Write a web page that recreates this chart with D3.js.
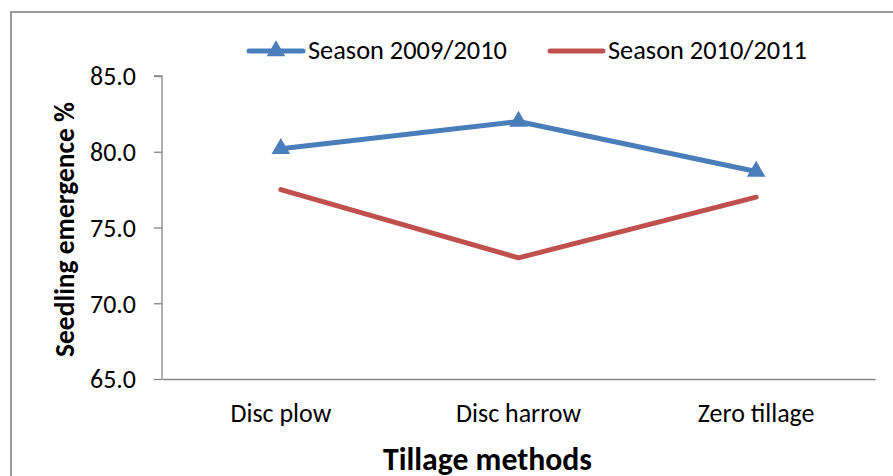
<!DOCTYPE html>
<html><head><meta charset="utf-8">
<script src="https://cdn.jsdelivr.net/npm/d3@7"></script>
<style>body{margin:0;background:#fff}svg{display:block}text{font-family:Carlito,Calibri,Lato,sans-serif}</style>
</head><body><svg id="c" width="893" height="476"></svg>
<script>
const categories = ["Disc plow", "Disc harrow", "Zero tillage"];
const season1 = [80.2, 82.0, 78.7];
const season2 = [77.5, 73.0, 77.0];
const seriesNames = ["Season 2009/2010", "Season 2010/2011"];
const yTicks = [65, 70, 75, 80, 85];

const svg = d3.select("#c");
const W = 893, H = 476;
const m = {left: 162, right: 875, top: 76, bottom: 379};
const FONT = "Carlito,Calibri,Lato,sans-serif";

// scale a text's font so its width matches a measured target
function fit(sel, target) {
  const fs = parseFloat(sel.attr("font-size"));
  const w = sel.node().getComputedTextLength();
  if (w > 0) sel.attr("font-size", (fs * target / w).toFixed(2));
  return +sel.attr("font-size");
}

svg.append("rect").attr("x", 11).attr("y", 12).attr("width", W + 10).attr("height", H + 10)
  .attr("fill", "none").attr("stroke", "#8c8c8c").attr("stroke-width", 1.75);

const x = d3.scaleBand().domain(categories).range([m.left, m.right]);
const y = d3.scaleLinear().domain([65, 85]).range([m.bottom, m.top]);

const yAxis = svg.append("g").attr("transform", `translate(${m.left},0)`)
  .call(d3.axisLeft(y).tickValues(yTicks).tickFormat(d3.format(".1f")).tickSize(8).tickPadding(18));
yAxis.select(".domain").attr("stroke", "#868686").attr("stroke-width", 1.3).attr("d", `M-8,${m.top}H0V${m.bottom}`);
yAxis.selectAll(".tick line").attr("stroke", "#868686").attr("stroke-width", 1.3);
yAxis.selectAll(".tick text").attr("font-size", 19).attr("fill", "#000").attr("font-family", FONT);
const tfs = fit(yAxis.select(".tick:last-of-type text"), 46);
yAxis.selectAll(".tick text").attr("font-size", tfs).attr("x", -26).attr("dy", "0.34em");

const xAxis = svg.append("g").attr("transform", `translate(0,${m.bottom})`)
  .call(d3.axisBottom(x).tickSize(0).tickPadding(25));
xAxis.select(".domain").attr("stroke", "#868686").attr("stroke-width", 1.3);
xAxis.selectAll(".tick text").attr("font-size", 19).attr("fill", "#000").attr("font-family", FONT);
const cfs = fit(xAxis.selectAll(".tick text").filter((d) => d === "Disc harrow"), 125);
xAxis.selectAll(".tick text").attr("font-size", cfs).attr("y", 43).attr("dy", 0);

const cx = d => x(d) + x.bandwidth() / 2;
const line = d3.line().x((d, i) => cx(categories[i])).y(d => y(d));

svg.append("path").datum(season2).attr("d", line).attr("fill", "none")
  .attr("stroke", "#C0504D").attr("stroke-width", 5).attr("stroke-linecap", "round").attr("stroke-linejoin", "round");
svg.append("path").datum(season1).attr("d", line).attr("fill", "none")
  .attr("stroke", "#4A7EBB").attr("stroke-width", 5).attr("stroke-linecap", "round").attr("stroke-linejoin", "round");

const tri = d3.symbol().type(d3.symbolTriangle).size(150);
svg.selectAll(".mk").data(season1).join("path")
  .attr("transform", (d, i) => `translate(${cx(categories[i])},${y(d)})`)
  .attr("d", tri).attr("fill", "#4A7EBB");

// legend
const lg = svg.append("g");
lg.append("line").attr("x1", 249).attr("x2", 303).attr("y1", 51).attr("y2", 51)
  .attr("stroke", "#4A7EBB").attr("stroke-width", 5).attr("stroke-linecap", "round");
lg.append("path").attr("transform", "translate(276,51)").attr("d", tri).attr("fill", "#4A7EBB");
const l1 = lg.append("text").attr("x", 308).attr("y", 59).attr("font-size", 19).text(seriesNames[0]);
const lfs = fit(l1, 199);
lg.append("line").attr("x1", 550).attr("x2", 603).attr("y1", 51).attr("y2", 51)
  .attr("stroke", "#C0504D").attr("stroke-width", 5).attr("stroke-linecap", "round");
lg.append("text").attr("x", 608).attr("y", 59).attr("font-size", lfs).text(seriesNames[1]);

// axis titles
const yt = svg.append("text").attr("transform", "translate(73.5,229.5) rotate(-90)").attr("text-anchor", "middle")
  .attr("font-size", 18).attr("font-weight", "bold").text("Seedling emergence %");
fit(yt, 255);
const xt = svg.append("text").attr("x", 487.5).attr("y", 470).attr("text-anchor", "middle")
  .attr("font-size", 23).attr("font-weight", "bold").text("Tillage methods");
fit(xt, 209);
</script></body></html>
